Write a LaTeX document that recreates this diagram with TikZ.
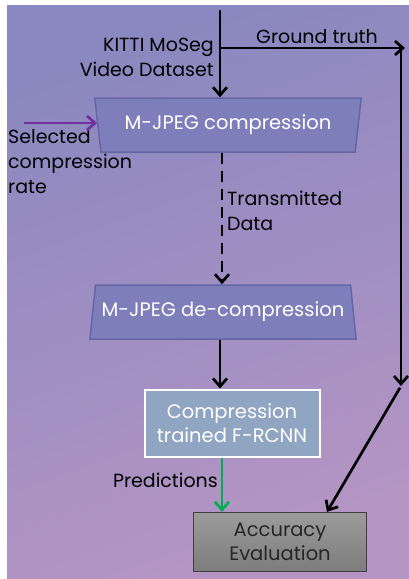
\documentclass[tikz,border=0pt]{standalone}
\usepackage{fontspec}
\setmainfont{Poppins}
\usetikzlibrary{arrows.meta,shapes.geometric}
\definecolor{bgtop}{HTML}{8A88C0}
\definecolor{bgbot}{HTML}{B595C4}
\definecolor{trapfill}{HTML}{7D7EBA}
\definecolor{trapline}{HTML}{6566A6}
\definecolor{netfill}{HTML}{8FA5C2}
\definecolor{evalfill}{HTML}{8A8A8A}
\definecolor{rateline}{HTML}{7030A0}
\definecolor{predline}{HTML}{00B050}
\tikzset{
  codec/.style={draw=trapline,line width=1.5pt,fill=trapfill,trapezium,trapezium stretches=true,
    text=white,minimum width=#1,minimum height=54pt,inner sep=0pt},
  flow/.style={line width=2.7pt,-{Straight Barb[length=8pt,width=14pt]}},
  lbl/.style={text=black,inner sep=0pt,font=\fontsize{19}{25}\selectfont}
}
\begin{document}
\begin{tikzpicture}[x=1pt,y=-1pt,font=\fontsize{19.5}{24}\selectfont]
  \useasboundingbox (0,0) rectangle (409,579);
  \shade[top color=bgtop,bottom color=bgbot,shading angle=20] (7,5) rectangle (409,579);
  % processing blocks
  \node[codec=267pt,shape border rotate=180,trapezium angle=76] (enc) at (228,125) {M-JPEG compression};
  \node[codec=267pt,trapezium angle=75] (dec) at (223,312) {M-JPEG de-compression};
  \node[draw=white,line width=2pt,fill=netfill,text=white,align=center,
        minimum width=175pt,minimum height=67pt,inner sep=0pt] (net) at (232,423) {Compression\\trained F-RCNN};
  \node[draw=black!75,line width=1.2pt,top color=evalfill!85!white,bottom color=evalfill!90!black,
        text=black!85,align=center,minimum width=173pt,minimum height=59pt,inner sep=0pt] (eval) at (280,542) {Accuracy\\Evaluation};
  % free ends
  \coordinate (src) at (220,10);
  \coordinate (split) at (220,48);
  \coordinate (gt) at (405,48);
  \coordinate (gtdown) at (401,386);
  \coordinate (rate) at (24,123);
  % labels
  \node[lbl,anchor=east,align=right] (kitti) at (214,57) {KITTI MoSeg\\Video Dataset};
  \node[lbl,anchor=south] (gtlbl) at (317,44) {Ground truth};
  \node[lbl,anchor=west,align=left] (ratelbl) at (8,162) {Selected\\compression\\rate};
  \node[lbl,anchor=west,align=left] (txlbl) at (227,211) {Transmitted\\Data};
  \node[lbl,anchor=east] (predlbl) at (218,480) {Predictions};
  % connectors
  \draw[flow] (src) -- (enc.north -| src);
  \draw[flow] (split) -- (gt);
  \draw[flow] (gt -| gtdown) -- (gtdown);
  \draw[flow,shorten <=2pt] (gtdown) -- (eval.north east -| 327,0);
  \draw[flow,rateline] (rate) -- (enc.west |- rate);
  \draw[flow,dashed,dash pattern=on 11pt off 7pt] (enc.south -| 222,0) -- (dec.north -| 222,0);
  \draw[flow] (dec.south -| 220,0) -- (net.north -| 220,0);
  \draw[flow,predline] (net.south -| 222,0) -- (eval.north -| 222,0);
\end{tikzpicture}
\end{document}
